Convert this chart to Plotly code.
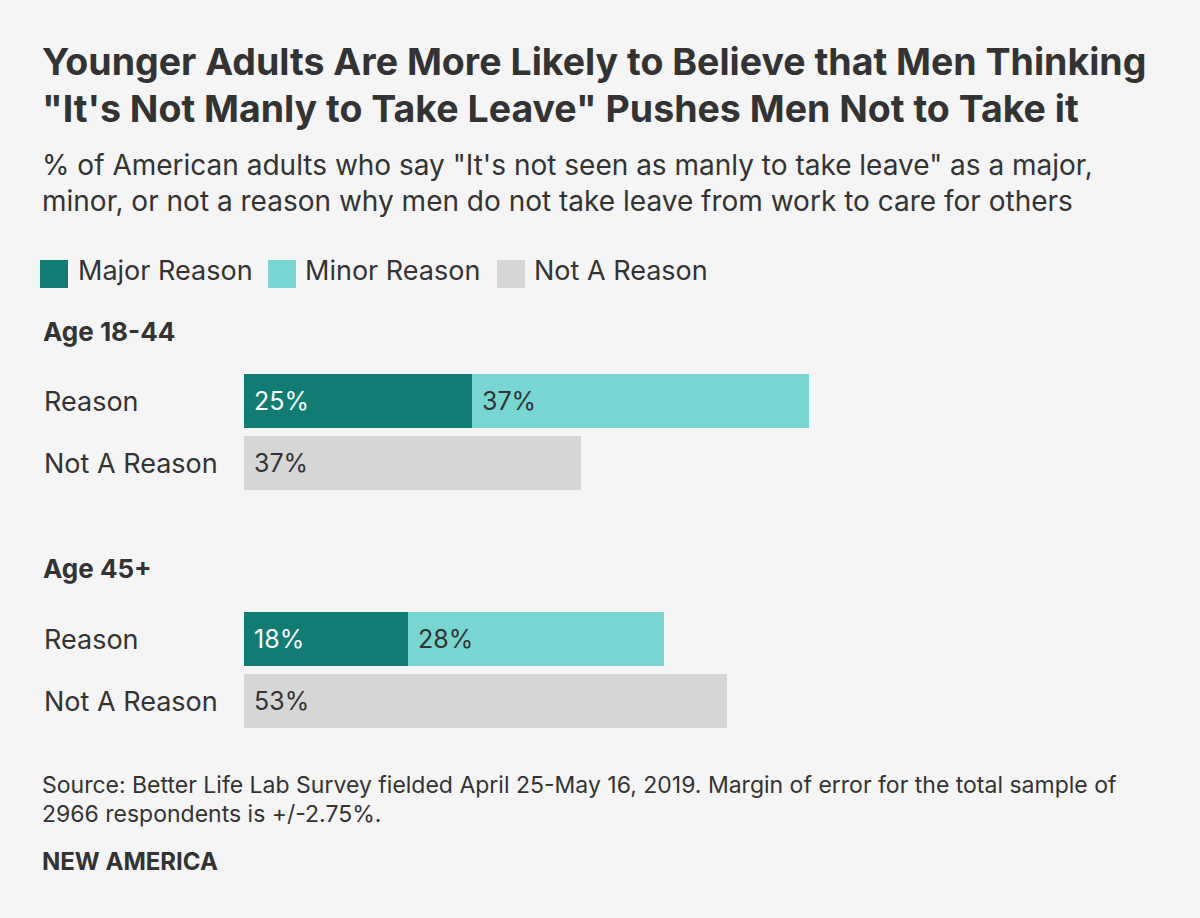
import plotly.graph_objects as go
from plotly.subplots import make_subplots

# ---- data ----
groups = ["Age 18-44", "Age 45+"]
rows = ["Reason", "Not A Reason"]
series = ["Major Reason", "Minor Reason", "Not A Reason"]
major = [25, 18]
minor = [37, 28]
not_reason = [37, 53]

title_lines = [
    "Younger Adults Are More Likely to Believe that Men Thinking",
    "\"It's Not Manly to Take Leave\" Pushes Men Not to Take it",
]
subtitle_lines = [
    "% of American adults who say \"It's not seen as manly to take leave\" as a major,",
    "minor, or not a reason why men do not take leave from work to care for others",
]
source_lines = [
    "Source: Better Life Lab Survey fielded April 25-May 16, 2019. Margin of error for the total sample of",
    "2966 respondents is +/-2.75%.",
]
brand = "NEW AMERICA"

colors = ["#117c73", "#78d7d3", "#d6d6d6"]
label_colors = ["#ffffff", "#333333", "#333333"]
TXT = "#333333"
BG = "#f5f5f5"
FONT = "Inter"

W, H = 1200, 918


def py(px):
    return 1 - px / H


def px_x(px):
    return (px - 244) / 912


fig = make_subplots(rows=2, cols=1)

group_domains = [(370, 494), (608, 732)]
group_label_y = [331, 568]

annotations = []
for g, grp in enumerate(groups):
    r = g + 1
    vals = [major[g], minor[g], not_reason[g]]
    cats = [rows[0], rows[0], rows[1]]
    bases = [0, major[g], 0]
    xref = "x" if r == 1 else "x2"
    yref = "y" if r == 1 else "y2"
    for s in range(3):
        fig.add_trace(
            go.Bar(
                x=[vals[s]], y=[cats[s]], orientation="h",
                marker=dict(color=colors[s], line=dict(width=0)),
                name=series[s], showlegend=False, hoverinfo="skip",
            ),
            row=r, col=1,
        )
        annotations.append(dict(
            x=bases[s], y=cats[s], xref=xref, yref=yref,
            text=f"{vals[s]}%", showarrow=False, xanchor="left", yanchor="middle",
            xshift=8, font=dict(family=FONT, size=25, color=label_colors[s]),
        ))
    for c in rows:
        annotations.append(dict(
            x=px_x(42), y=c, xref="paper", yref=yref,
            text=c, showarrow=False, xanchor="left", yanchor="middle",
            font=dict(family=FONT, size=27, color=TXT),
        ))
    annotations.append(dict(
        x=px_x(41), y=py(group_label_y[g]), xref="paper", yref="paper",
        text=f"<b>{grp}</b>", showarrow=False, xanchor="left", yanchor="middle",
        font=dict(family=FONT, size=26, color=TXT),
    ))
    d0, d1 = group_domains[g]
    ax = "yaxis" if r == 1 else "yaxis2"
    xa = "xaxis" if r == 1 else "xaxis2"
    fig.update_layout({
        ax: dict(domain=[py(d1), py(d0)], categoryorder="array", categoryarray=rows,
                 range=[1.5, -0.5], showticklabels=False, showgrid=False,
                 zeroline=False, showline=False, fixedrange=True),
        xa: dict(range=[0, 100], visible=False, showgrid=False, zeroline=False),
    })

# title
for t, yc in zip(title_lines, [61, 108]):
    annotations.append(dict(
        x=px_x(40), y=py(yc), xref="paper", yref="paper", text=f"<b>{t}</b>",
        showarrow=False, xanchor="left", yanchor="middle",
        font=dict(family=FONT, size=37.5, color=TXT),
    ))
annotations.append(dict(
    x=px_x(40), y=py(183), xref="paper", yref="paper", text="<br>".join(subtitle_lines),
    showarrow=False, xanchor="left", yanchor="middle", align="left",
    font=dict(family=FONT, size=28, color=TXT),
))

# legend
shapes = []
leg_x = [40, 268, 497]
leg_tx = [76, 303, 532]
for s in range(3):
    shapes.append(dict(type="rect", xref="paper", yref="paper",
                       x0=px_x(leg_x[s]), x1=px_x(leg_x[s] + 28),
                       y0=py(288), y1=py(260), fillcolor=colors[s], line=dict(width=0)))
    annotations.append(dict(
        x=px_x(leg_tx[s]), y=py(270), xref="paper", yref="paper", text=series[s],
        showarrow=False, xanchor="left", yanchor="middle",
        font=dict(family=FONT, size=27, color=TXT),
    ))

for t, yc in zip(source_lines, [785, 814]):
    annotations.append(dict(
        x=px_x(40), y=py(yc), xref="paper", yref="paper", text=t,
        showarrow=False, xanchor="left", yanchor="middle",
        font=dict(family=FONT, size=23, color=TXT),
    ))
annotations.append(dict(
    x=px_x(40), y=py(861), xref="paper", yref="paper", text=f"<b>{brand}</b>",
    showarrow=False, xanchor="left", yanchor="middle",
    font=dict(family=FONT, size=24, color=TXT),
))

fig.update_layout(
    width=W, height=H, barmode="stack", bargap=0.129,
    paper_bgcolor=BG, plot_bgcolor=BG,
    margin=dict(l=244, r=44, t=0, b=0),
    annotations=annotations, shapes=shapes, showlegend=False,
    font=dict(family=FONT, color=TXT),
)

fig.write_html(
    "out.html",
    config={"displayModeBar": False},
    post_script="document.body.style.margin='0';document.body.style.overflow='hidden';",
)
